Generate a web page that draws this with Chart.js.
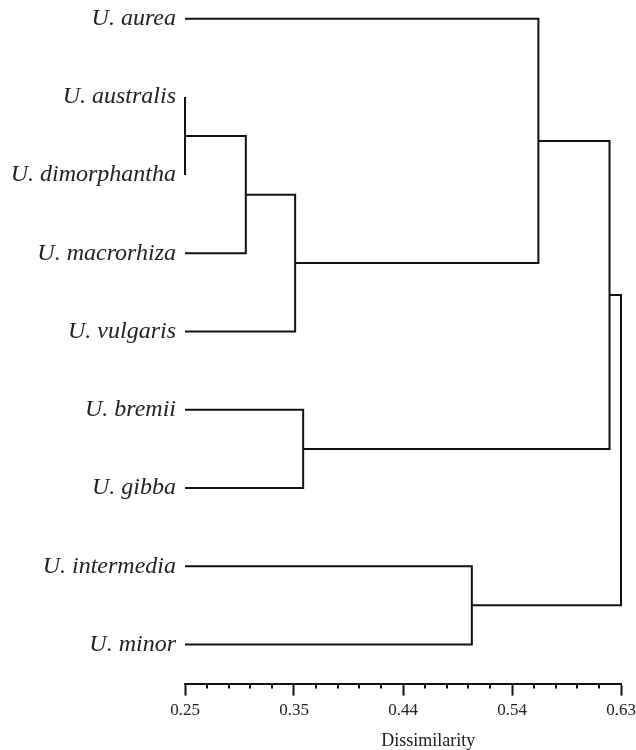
<!DOCTYPE html>
<html>
<head>
<meta charset="utf-8">
<script src="https://cdn.jsdelivr.net/npm/chart.js@4"></script>
<style>
  html, body { margin: 0; padding: 0; background: #fff; }
  #wrap { width: 636px; height: 750px; }
</style>
</head>
<body>
<div id="wrap"><canvas id="dendro" width="636" height="750"></canvas></div>
<script>
// leaves, top to bottom
var leafNames = ["U. aurea", "U. australis", "U. dimorphantha", "U. macrorhiza", "U. vulgaris",
                 "U. bremii", "U. gibba", "U. intermedia", "U. minor"];
var leafHeight = 0.25;
// merges (node ids: leaves 0-8, merges 9-16 in order)
var mergeLeft   = [1, 9, 10, 0, 5, 12, 7, 14];
var mergeRight  = [2, 3, 4, 11, 6, 13, 8, 15];
var mergeHeight = [0.25, 0.303, 0.346, 0.558, 0.353, 0.620, 0.500, 0.630];
// axis
var axisTicks  = [0.25, 0.345, 0.44, 0.535, 0.63];
var tickLabels = ["0.25", "0.35", "0.44", "0.54", "0.63"];
var axisTitle  = "Dissimilarity";

//position of every node
var nodeY = leafNames.map(function(n, i) { return i; });
var nodeH = leafNames.map(function() { return leafHeight; });
var datasets = [];
for (var i = 0; i < mergeHeight.length; i++) {
  var a = mergeLeft[i], b = mergeRight[i], h = mergeHeight[i];
  datasets.push({
    data: [
      {x: nodeH[a], y: nodeY[a]},
      {x: h, y: nodeY[a]},
      {x: h, y: nodeY[b]},
      {x: nodeH[b], y: nodeY[b]}
    ],
    showLine: true,
    borderColor: "#111",
    borderWidth: 2,
    pointRadius: 0,
    fill: false,
    clip: false
  });
  nodeY.push((nodeY[a] + nodeY[b]) / 2);
  nodeH.push(h);
}

var serif = "'Liberation Serif', 'Times New Roman', serif";

//minor ticks + axis title
var extras = {
  id: "extras",
  afterDraw: function(chart) {
    var ctx = chart.ctx, xs = chart.scales.x, area = chart.chartArea;
    ctx.save();
    ctx.strokeStyle = "#111";
    ctx.lineWidth = 2;
    for (var k = 0; k < axisTicks.length - 1; k++) {
      var step = (axisTicks[k + 1] - axisTicks[k]) / 5;
      for (var m = 1; m < 5; m++) {
        var px = Math.round(xs.getPixelForValue(axisTicks[k] + step * m));
        ctx.beginPath();
        ctx.moveTo(px, area.bottom);
        ctx.lineTo(px, area.bottom + 5);
        ctx.stroke();
      }
    }
    ctx.fillStyle = "#222";
    ctx.font = "18px " + serif;
    ctx.textAlign = "center";
    ctx.textBaseline = "middle";
    ctx.fillText(axisTitle, area.left + 0.558 * (area.right - area.left), 741);
    ctx.restore();
  }
};

var chart = new Chart(document.getElementById("dendro"), {
  type: 'scatter',
  data: { datasets: datasets },
  options: {
    responsive: false,
    animation: false,
    layout: { padding: { top: 3, right: 15, bottom: 24, left: 0 } },
    plugins: { legend: { display: false }, tooltip: { enabled: false } },
    scales: {
      x: {
        type: 'linear',
        min: 0.25,
        max: 0.63,
        afterBuildTicks: function(scale) {
          scale.ticks = axisTicks.map(function(v) { return {value: v}; });
        },
        afterFit: function(scale) { scale.paddingLeft = 0; scale.paddingRight = 0; },
        ticks: {
          autoSkip: false,
          maxRotation: 0,
          padding: 5,
          color: "#222",
          font: { family: serif, size: 17 },
          callback: function(v, idx) { return tickLabels[idx]; }
        },
        grid: { drawOnChartArea: false, tickLength: 12, tickWidth: 2, tickColor: "#111" },
        border: { display: true, color: "#111", width: 2 }
      },
      y: {
        type: 'linear',
        reverse: true,
        min: -0.2,
        max: 8.5,
        afterFit: function(scale) { scale.width = 185; scale.paddingTop = 0; scale.paddingBottom = 0; },
        afterBuildTicks: function(scale) {
          scale.ticks = leafNames.map(function(n, i) { return {value: i}; });
        },
        ticks: {
          autoSkip: false,
          padding: 9,
          color: "#222",
          font: { family: serif, size: 24, style: 'italic' },
          callback: function(v) { return leafNames[v]; }
        },
        grid: { display: false, drawTicks: false },
        border: { display: false }
      }
    }
  },
  plugins: [extras]
});
</script>
</body>
</html>
